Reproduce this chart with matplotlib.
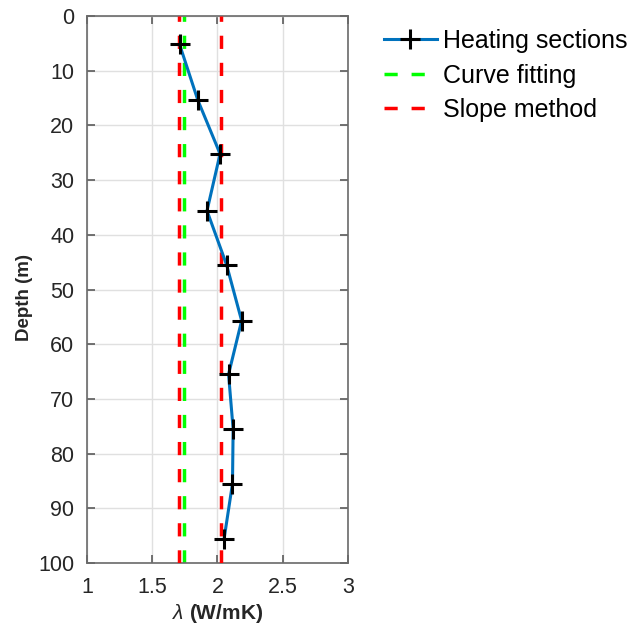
import numpy as np
import matplotlib
matplotlib.use("Agg")
import matplotlib.pyplot as plt

plt.rcParams['font.family'] = ['Liberation Sans', 'DejaVu Sans']
plt.rcParams['mathtext.fontset'] = 'custom'
plt.rcParams['mathtext.it'] = 'Liberation Sans:italic'
plt.rcParams['mathtext.rm'] = 'Liberation Sans'

# heating sections: thermal conductivity vs depth
depth = [5.2, 15.4, 25.2, 35.6, 45.5, 55.7, 65.5, 75.5, 85.5, 95.7]
lam = [1.71, 1.85, 2.02, 1.92, 2.07, 2.185, 2.085, 2.12, 2.115, 2.05]
lam_curve = 1.745
lam_slope = [1.705, 2.03]

fig = plt.figure(figsize=(6.34, 6.28), dpi=100)
ax = fig.add_axes([0.137, 0.1035, 0.412, 0.871])

dash = (0, (3.8, 4.0))
ax.plot(lam, depth, color='#0072BD', lw=2.2, marker='+', ms=15, mew=2.2,
        mec='black', zorder=4, label='Heating sections')
ax.axvline(lam_curve, color=(0, 1, 0), lw=2.5, ls=dash,
           label='Curve fitting', zorder=2)
for i, v in enumerate(lam_slope):
    ax.axvline(v, color=(1, 0, 0), lw=2.5, ls=dash,
               label='Slope method' if i == 0 else None, zorder=3)

ax.set_xlim(1, 3)
ax.set_ylim(100, 0)
ax.set_xticks([1, 1.5, 2, 2.5, 3])
ax.set_xticklabels(['1', '1.5', '2', '2.5', '3'])
ax.set_yticks(np.arange(0, 101, 10))
ax.grid(True, color='#e0e0e0', lw=1)
ax.set_axisbelow(True)
ax.tick_params(direction='in', top=True, right=True, length=6, width=1.2,
               colors='#5a5a5a', labelsize=15.5, labelcolor='#262626')
ax.tick_params(axis='x', pad=10)
ax.tick_params(axis='y', pad=9)
for s in ax.spines.values():
    s.set_color('#6a6a6a')
    s.set_linewidth(1.2)

ax.set_xlabel(r'$\lambda$ (W/mK)', fontsize=15, fontweight='bold', color='#262626', labelpad=3)
ax.set_ylabel('Depth (m)', fontsize=13.5, fontweight='bold', color='#262626')
ax.yaxis.set_label_coords(-0.205, 0.485)

fig.legend(loc='upper left', bbox_to_anchor=(384 / 634, 1 - 29 / 628), frameon=False,
           fontsize=18, handlelength=2.1, handletextpad=0.25, labelspacing=0.42,
           borderpad=0, borderaxespad=0)

fig.savefig('out.png', dpi=100)
